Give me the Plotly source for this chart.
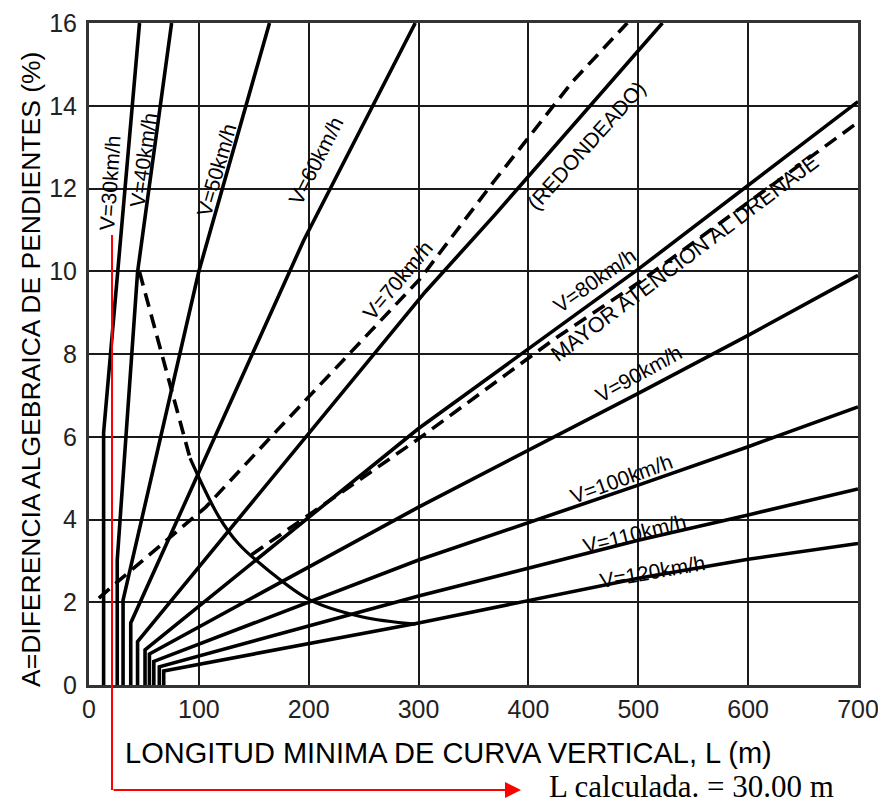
import plotly.graph_objects as go

# ---------------- data ----------------
X_TICKS = [0, 100, 200, 300, 400, 500, 600, 700]
Y_TICKS = [0, 2, 4, 6, 8, 10, 12, 14, 16]

# speed lines: L (m) vs A (%)
L_V30 = [13.3, 13.3, 46.0]
A_V30 = [0, 6.1, 16]
L_V40 = [25.7, 25.7, 44.2, 75.2]
A_V40 = [0, 3.02, 9.98, 16]
L_V50 = [31, 31, 100, 164.3]
A_V50 = [0, 2.05, 10.0, 16]
L_V60 = [38, 38, 195.5, 297]
A_V60 = [0, 1.5, 10.75, 16]
L_V70 = [44.2, 44.2, 306, 369, 522]
A_V70 = [0, 1.05, 9.5, 11.35, 16]
L_V80 = [51, 51, 300, 500, 700]
A_V80 = [0, 0.85, 6.2, 10.05, 14.1]
L_V90 = [55, 55, 300, 500, 600, 700]
A_V90 = [0, 0.75, 4.3, 7.05, 8.45, 9.9]
L_V100 = [59, 59, 300, 500, 600, 700]
A_V100 = [0, 0.57, 3.02, 4.83, 5.76, 6.72]
L_V110 = [64, 64, 300, 500, 600, 700]
A_V110 = [0, 0.44, 2.15, 3.5, 4.11, 4.74]
L_V120 = [68, 68, 300, 500, 600, 700]
A_V120 = [0, 0.34, 1.5, 2.58, 3.04, 3.42]

# dashed "(REDONDEADO)" line
L_REDOND = [9, 28.0, 106.3, 171.4, 301.8, 369.4, 440.7, 490]
A_REDOND = [2.1, 2.54, 4.30, 6.16, 9.83, 12.2, 14.6, 16]

# dashed "MAYOR ATENCION AL DRENAJE" line
L_DREN = [148, 300, 423, 500, 700]
A_DREN = [3.15, 5.95, 8.35, 9.72, 13.6]

# boundary curve (upper part dashed, lower part solid)
L_CURVE_DASH = [46.0, 70.8, 85.6, 92.0]
A_CURVE_DASH = [9.98, 7.54, 6.16, 5.48]
L_CURVE_SOLID = [92.0, 118.1, 135.9, 162.8, 201.5, 248.0, 297.2]
A_CURVE_SOLID = [5.48, 4.07, 3.42, 2.78, 2.05, 1.65, 1.47]

# in-chart labels
LABEL_TEXT = ["V=30km/h", "V=40km/h", "V=50km/h", "V=60km/h", "V=70km/h",
              "(REDONDEADO)", "V=80km/h", "MAYOR ATENCION AL DRENAJE",
              "V=90km/h", "V=100km/h", "V=110km/h", "V=120km/h"]
LABEL_L = [18.6, 49.3, 115.8, 206.5, 280.6, 452.5, 459.9, 542.7, 500.3, 485.0, 496.7, 513.2]
LABEL_A = [12.13, 12.68, 12.44, 12.68, 9.78, 13.04, 9.78, 10.31, 7.53, 4.99, 3.66, 2.75]
LABEL_ANGLE = [-86, -82, -74, -63, -50, -48, -35, -37, -29, -20, -14, -10]
LABEL_SIZE = [21, 21, 21, 21, 21, 21, 21, 21.5, 21, 21, 21, 21]

X_TITLE = "LONGITUD MINIMA DE CURVA VERTICAL, L (m)"
Y_TITLE = "A=DIFERENCIA ALGEBRAICA DE PENDIENTES (%)"
NOTE_TEXT = "L calculada. = 30.00 m"

# ---------------- figure ----------------
# page body keeps the browser's default 8px margin, so the figure is
# 8px smaller than the window and all positions below are figure pixels
W, H = 878, 797
ML, MR, MT, MB = 81, 28, 15, 120
SANS = "Liberation Sans, Arial, sans-serif"
pw = W - ML - MR
ph = H - MT - MB


def px_x(x):
    return (x - ML) / pw


def px_y(y):
    return (H - MB - y) / ph


fig = go.Figure()

solid = dict(color="black", width=3.6)
speed_lines = [(L_V30, A_V30), (L_V40, A_V40), (L_V50, A_V50), (L_V60, A_V60),
               (L_V70, A_V70), (L_V80, A_V80), (L_V90, A_V90), (L_V100, A_V100),
               (L_V110, A_V110), (L_V120, A_V120)]
for lx, ly in speed_lines:
    fig.add_trace(go.Scatter(x=lx, y=ly, mode="lines", line=solid,
                             hoverinfo="skip", showlegend=False))

dash_style = dict(color="black", width=3.6, dash="14px,8px")
fig.add_trace(go.Scatter(x=L_REDOND, y=A_REDOND, mode="lines", line=dash_style,
                         showlegend=False, hoverinfo="skip"))
fig.add_trace(go.Scatter(x=L_DREN, y=A_DREN, mode="lines", line=dash_style,
                         showlegend=False, hoverinfo="skip"))
fig.add_trace(go.Scatter(x=L_CURVE_DASH, y=A_CURVE_DASH, mode="lines", line=dash_style,
                         showlegend=False, hoverinfo="skip"))
fig.add_trace(go.Scatter(x=L_CURVE_SOLID, y=A_CURVE_SOLID, mode="lines",
                         line=dict(color="black", width=3.2, shape="spline"),
                         showlegend=False, hoverinfo="skip"))

annotations = []
for t, lx, ly, ang, sz in zip(LABEL_TEXT, LABEL_L, LABEL_A, LABEL_ANGLE, LABEL_SIZE):
    annotations.append(dict(x=lx, y=ly, xref="x", yref="y", text=t, textangle=ang,
                            showarrow=False, xanchor="center", yanchor="middle",
                            font=dict(family=SANS, size=sz, color="black")))

# axis titles as annotations (positioned like the reference)
annotations.append(dict(x=px_x(440.5), y=px_y(744.5), xref="paper", yref="paper",
                        xanchor="center", yanchor="middle", text=X_TITLE, showarrow=False,
                        font=dict(family=SANS, size=29, color="black")))
annotations.append(dict(x=px_x(23), y=px_y(362), xref="paper", yref="paper",
                        xanchor="center", yanchor="middle", text=Y_TITLE, showarrow=False,
                        textangle=-90, font=dict(family=SANS, size=26.5, color="black")))

# red marker line + arrow + note
red_x = px_x(104)
shapes = [dict(type="line", xref="paper", yref="paper", x0=red_x, x1=red_x,
               y0=px_y(227), y1=px_y(782), line=dict(color="red", width=2))]
annotations.append(dict(x=px_x(513), y=px_y(782), xref="paper", yref="paper",
                        ax=-(513 - 104), ay=0, axref="pixel", ayref="pixel",
                        text="", showarrow=True, arrowhead=2, arrowsize=1.6,
                        arrowwidth=2, arrowcolor="red", standoff=0, startstandoff=0))
annotations.append(dict(x=px_x(540), y=px_y(796.5), xref="paper", yref="paper",
                        xanchor="left", yanchor="bottom", text=NOTE_TEXT, showarrow=False,
                        borderpad=0,
                        font=dict(family="Liberation Serif, Times New Roman, serif", size=31,
                                  color="black")))

fig.update_layout(
    template="none",
    width=W, height=H,
    margin=dict(l=ML, r=MR, t=MT, b=MB, autoexpand=False),
    plot_bgcolor="white", paper_bgcolor="white",
    showlegend=False,
    annotations=annotations,
    shapes=shapes,
)
fig.update_xaxes(range=[0, 700], tickvals=X_TICKS, ticktext=[str(v) for v in X_TICKS],
                 automargin=False,
                 showgrid=True, gridcolor="#1a1a1a", gridwidth=2,
                 showline=True, linecolor="#333", linewidth=3, mirror=True,
                 zeroline=False, ticks="", ticklen=0, ticklabelstandoff=0,
                 tickfont=dict(family=SANS, size=25, color="#222"))
fig.update_yaxes(range=[0, 16], tickvals=Y_TICKS, ticktext=[str(v) for v in Y_TICKS],
                 automargin=False,
                 showgrid=True, gridcolor="#1a1a1a", gridwidth=2,
                 showline=True, linecolor="#333", linewidth=3, mirror=True,
                 zeroline=False, ticks="", ticklen=0, ticklabelstandoff=4,
                 tickfont=dict(family=SANS, size=25, color="#222"))

fig.write_html("out.html")
